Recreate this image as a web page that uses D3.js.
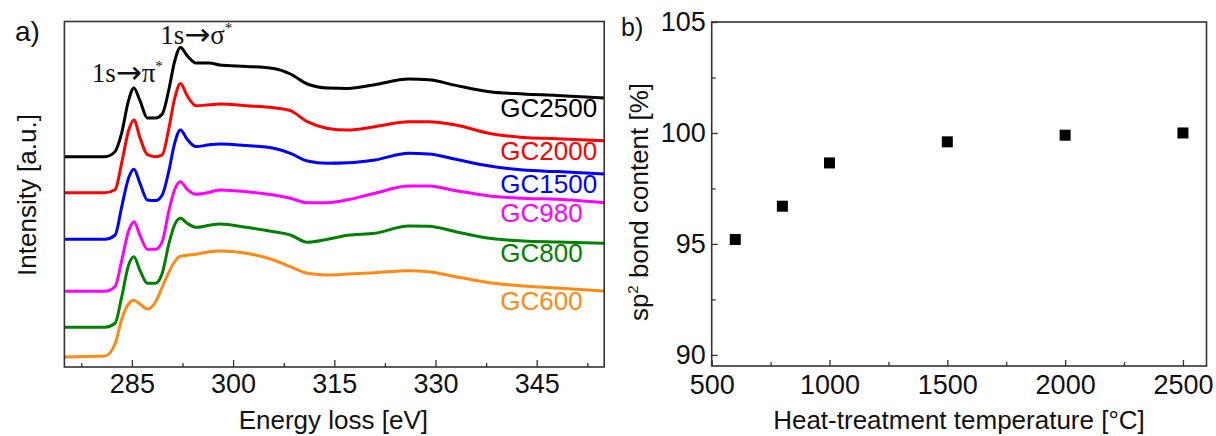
<!DOCTYPE html>
<html><head><meta charset="utf-8">
<script src="https://cdn.jsdelivr.net/npm/d3@7"></script>
<style>
body{margin:0;background:#fff}
svg{display:block}
text{font-family:"Liberation Sans",Arial,sans-serif;fill:#111}
</style>
</head><body><svg id="c" width="1216" height="436"></svg>
<script>
// ---------- Panel a data: EELS C K-edge spectra (arbitrary units) ----------
const energies = [275, 281, 282.5, 283.5, 284.5, 285.3, 286.2, 287.3, 288.5, 289.5, 290.5, 291.3, 292.2, 293.2, 294.5, 296.5, 298, 302, 306, 308.5, 311, 314, 317, 321, 326, 329, 333, 338, 343, 348, 355];
const seriesNames = ["GC2500", "GC2000", "GC1500", "GC980", "GC800", "GC600"];
const seriesColors = ["#000000", "#ff0000", "#0000ff", "#ff00ff", "#008000", "#ff8a14"];
const gc2500 = [0, 0, 5, 24, 56, 68.7, 56, 38.7, 38.7, 42.7, 67.7, 94.3, 109.3, 101, 93.7, 93.7, 91.7, 90.3, 88.3, 82.7, 72.7, 68.7, 68.3, 72, 77.7, 77, 71.3, 65, 62.7, 61.3, 58.7];
const gc2000 = [0, 0, 3, 30, 62, 72.7, 55, 38, 36, 38, 65, 93, 109.3, 97, 87, 88, 88.7, 87, 85, 82, 71, 64.3, 62.7, 66, 71, 71, 67.7, 59.3, 55.3, 54, 52];
const gc1500 = [0, 0, 4, 32.7, 61, 70, 56, 39.3, 38.7, 44.3, 69, 95, 109.3, 100, 92.7, 94.5, 95.3, 93.7, 91, 86, 78.3, 76, 76.5, 79.3, 86, 85.3, 80, 73.3, 69.3, 67.7, 65.3];
const gc980 = [0, 0, 4.7, 31, 60, 69.6, 56, 42, 42, 49.7, 81, 101, 109.6, 102, 97, 99, 101.3, 99.6, 96.3, 93, 88.6, 88.6, 91.5, 98, 105.3, 105.3, 100.6, 95.3, 93, 92, 88.6];
const gc800 = [0, 0, 4, 30.7, 62, 70.6, 57, 44, 44, 54, 84, 102, 109, 104, 100, 102, 103.3, 100, 95.6, 92.3, 85, 88, 92, 94, 101.3, 101, 95.6, 89, 86.3, 85.3, 84];
const gc600 = [0, 1, 13, 38, 53, 56.7, 53, 48, 55, 70, 85, 95, 100.7, 101.7, 102.7, 105.3, 106, 103.7, 97, 90.3, 83.7, 82, 83, 84.3, 86.3, 85.3, 80.3, 74.3, 71, 69, 66];
const spectra = [gc2500, gc2000, gc1500, gc980, gc800, gc600];
const offsets = [210.3, 174.3, 127.7, 75.7, 39.7, 10];
const labelEnergy = 339.6;
const labelLevels = [249.7, 207, 173.7, 145.3, 105.3, 57];
const energyTicks = [285, 300, 315, 330, 345];
const energyMinor = [277.5, 292.5, 307.5, 322.5, 337.5, 352.5];

// ---------- Panel b data ----------
const temps = [600, 800, 1000, 1500, 2000, 2500];
const sp2 = [95.2, 96.7, 98.65, 99.6, 99.9, 100.0];
const tempTicks = [500, 1000, 1500, 2000, 2500];
const tempMinor = [750, 1250, 1750, 2250];
const sp2Ticks = [90, 95, 100, 105];
const sp2Minor = [92.5, 97.5, 102.5];

const svg = d3.select("#c");
const FS = 26, TFS = 27;

// ================= Panel a =================
const A = {l: 64.4, r: 604.2, t: 21.5, b: 367};
const xa = d3.scaleLinear().domain([275, 355]).range([A.l, A.r]);
const ya = d3.scaleLinear().domain([0, 345.5]).range([A.b, A.t]);

const ga = svg.append("g");
const line = d3.line().curve(d3.curveMonotoneX);
spectra.forEach((s, i) => {
  ga.append("path")
    .attr("d", line(energies.map((e, j) => [xa(e), ya(s[j] + offsets[i])])))
    .attr("fill", "none").attr("stroke", seriesColors[i])
    .attr("stroke-width", 3).attr("stroke-linejoin", "round");
  ga.append("text").attr("x", xa(labelEnergy)).attr("y", ya(labelLevels[i]))
    .attr("font-size", FS).style("fill", seriesColors[i]).text(seriesNames[i]);
});

// x axis
const axA = ga.append("g").attr("transform", `translate(0,${A.b})`)
  .call(d3.axisBottom(xa).tickValues(energyTicks).tickSizeInner(-7).tickSizeOuter(0).tickPadding(7));
axA.select(".domain").remove();
axA.selectAll("text").attr("font-size", TFS).style("font-family", '"Liberation Sans",Arial,sans-serif');
axA.selectAll("line").attr("stroke", "#333").attr("stroke-width", 1.3);
const axAm = ga.append("g").attr("transform", `translate(0,${A.b})`)
  .call(d3.axisBottom(xa).tickValues(energyMinor).tickFormat("").tickSizeInner(-4).tickSizeOuter(0));
axAm.select(".domain").remove();
axAm.selectAll("line").attr("stroke", "#333").attr("stroke-width", 1.3);

ga.append("rect").attr("x", A.l).attr("y", A.t).attr("width", A.r - A.l).attr("height", A.b - A.t)
  .attr("fill", "none").attr("stroke", "#333").attr("stroke-width", 1.6);

// annotations
const ann = [{e: 279.05, v: 285.3, sym: "π"}, {e: 289.2, v: 323, sym: "σ"}];
ann.forEach(a => {
  const t = ga.append("text").attr("x", xa(a.e)).attr("y", ya(a.v))
    .style("font-family", '"Liberation Serif","Times New Roman",serif').attr("font-size", 27);
  t.append("tspan").text("1s");
  t.append("tspan").style("font-family", '"DejaVu Sans",sans-serif').attr("font-size", 31).attr("dy", 1).text("→");
  t.append("tspan").attr("dy", -1).text(a.sym);
  t.append("tspan").attr("dy", -11).attr("font-size", 15).text("*");
});

ga.append("text").attr("x", 15).attr("y", 40.5).attr("font-size", 28).text("a)");
ga.append("text").attr("transform", `translate(36,195) rotate(-90)`)
  .attr("text-anchor", "middle").attr("font-size", FS).text("Intensity [a.u.]");
ga.append("text").attr("x", (A.l + A.r) / 2 - 1).attr("y", 429)
  .attr("text-anchor", "middle").attr("font-size", FS).text("Energy loss [eV]");

// ================= Panel b =================
const B = {l: 711.7, r: 1206.5, t: 22, b: 366};
const xb = d3.scaleLinear().domain([500, 2600]).range([B.l, B.r]);
const yb = d3.scaleLinear().domain([89.5, 105]).range([B.b, B.t]);
const gb = svg.append("g");

const axBx = gb.append("g").attr("transform", `translate(0,${B.b})`)
  .call(d3.axisBottom(xb).tickValues(tempTicks).tickFormat(d3.format("d")).tickSizeInner(-6).tickSizeOuter(0).tickPadding(9));
const axBxm = gb.append("g").attr("transform", `translate(0,${B.b})`)
  .call(d3.axisBottom(xb).tickValues(tempMinor).tickFormat("").tickSizeInner(-4).tickSizeOuter(0));
const axBy = gb.append("g").attr("transform", `translate(${B.l},0)`)
  .call(d3.axisLeft(yb).tickValues(sp2Ticks).tickFormat(d3.format("d")).tickSizeInner(-6).tickSizeOuter(0).tickPadding(6));
const axBym = gb.append("g").attr("transform", `translate(${B.l},0)`)
  .call(d3.axisLeft(yb).tickValues(sp2Minor).tickFormat("").tickSizeInner(-4).tickSizeOuter(0));
[axBx, axBxm, axBy, axBym].forEach(g => {
  g.select(".domain").remove();
  g.selectAll("line").attr("stroke", "#333").attr("stroke-width", 1.3);
  g.selectAll("text").attr("font-size", TFS).style("font-family", '"Liberation Sans",Arial,sans-serif');
});

gb.append("rect").attr("x", B.l).attr("y", B.t).attr("width", B.r - B.l).attr("height", B.b - B.t)
  .attr("fill", "none").attr("stroke", "#333").attr("stroke-width", 1.6);

const M = 11;
gb.selectAll("rect.pt").data(temps).enter().append("rect").attr("class", "pt")
  .attr("x", (d) => xb(d) - M / 2).attr("y", (d, i) => yb(sp2[i]) - M / 2)
  .attr("width", M).attr("height", M).attr("fill", "#000");

gb.append("text").attr("x", 621).attr("y", 35.5).attr("font-size", 25).text("b)");
const yl = gb.append("text").attr("transform", `translate(648,${(B.t + B.b) / 2 + 8}) rotate(-90)`)
  .attr("text-anchor", "middle").attr("font-size", FS);
yl.append("tspan").text("sp");
yl.append("tspan").attr("dy", -10).attr("font-size", 15).text("2");
yl.append("tspan").attr("dy", 10).text(" bond content [%]");
gb.append("text").attr("x", 959).attr("y", 429)
  .attr("text-anchor", "middle").attr("font-size", FS).text("Heat-treatment temperature [°C]");
</script>
</body></html>
